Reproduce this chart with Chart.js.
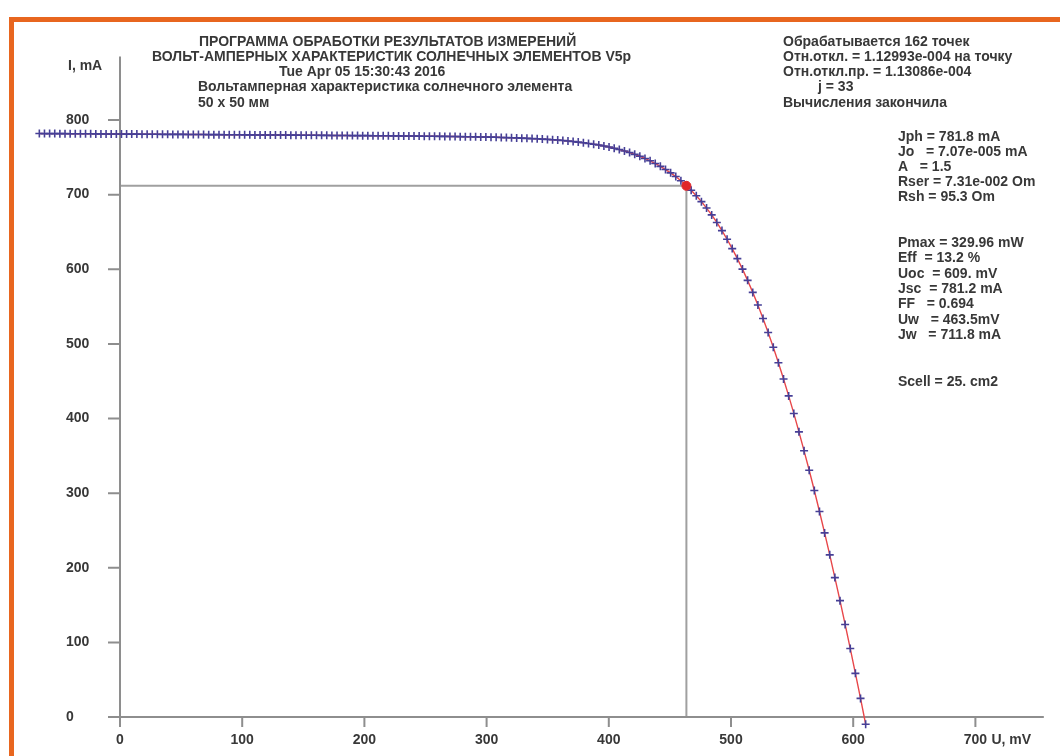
<!DOCTYPE html>
<html>
<head>
<meta charset="utf-8">
<title>ВАХ солнечного элемента</title>
<script src="https://cdn.jsdelivr.net/npm/chart.js@4.4.1/dist/chart.umd.min.js"></script>
<style>
  html, body { margin: 0; padding: 0; background: #fff; }
  #wrap { position: relative; width: 1060px; height: 756px; overflow: hidden; background: #fff; }
  #frame { position: absolute; left: 9px; top: 17px; right: -20px; bottom: -20px;
           border-top: 5px solid #e8661f; border-left: 5px solid #e8661f; }
  #ivChart { position: absolute; left: 0; top: 0; }
</style>
</head>
<body>
<div id="wrap">
  <div id="frame"></div>
  <canvas id="ivChart" width="1060" height="756"></canvas>
</div>
<script>
const voltage = [
  -66.0, -61.8, -57.6, -53.4, -49.2, -45.0, -40.8, -36.6, -32.4, -28.2,
  -24.0, -19.8, -15.6, -11.4, -7.2, -3.0, 1.2, 5.4, 9.6, 13.8,
  18.0, 22.2, 26.4, 30.6, 34.8, 39.0, 43.2, 47.4, 51.6, 55.8,
  60.0, 64.2, 68.4, 72.6, 76.8, 81.0, 85.2, 89.4, 93.6, 97.8,
  102.0, 106.2, 110.4, 114.6, 118.8, 123.0, 127.2, 131.4, 135.6, 139.8,
  144.0, 148.2, 152.4, 156.6, 160.8, 165.0, 169.2, 173.4, 177.6, 181.8,
  186.0, 190.2, 194.4, 198.6, 202.8, 207.0, 211.2, 215.4, 219.6, 223.8,
  228.0, 232.2, 236.4, 240.6, 244.8, 249.0, 253.2, 257.4, 261.6, 265.8,
  270.0, 274.2, 278.4, 282.6, 286.8, 291.0, 295.2, 299.4, 303.6, 307.8,
  312.0, 316.2, 320.4, 324.6, 328.8, 333.0, 337.2, 341.4, 345.6, 349.8,
  354.0, 358.2, 362.4, 366.6, 370.8, 375.0, 379.2, 383.4, 387.6, 391.8,
  396.0, 400.2, 404.4, 408.6, 412.8, 417.0, 421.2, 425.4, 429.6, 433.8,
  438.0, 442.2, 446.4, 450.6, 454.8, 459.0, 463.2, 467.4, 471.6, 475.8,
  480.0, 484.2, 488.4, 492.6, 496.8, 501.0, 505.2, 509.4, 513.6, 517.8,
  522.0, 526.2, 530.4, 534.6, 538.8, 543.0, 547.2, 551.4, 555.6, 559.8,
  564.0, 568.2, 572.4, 576.6, 580.8, 585.0, 589.2, 593.4, 597.6, 601.8,
  606.0, 610.2
];
const current = [
  781.9, 781.8, 781.8, 781.8, 781.7, 781.7, 781.6, 781.6, 781.5, 781.5,
  781.5, 781.4, 781.4, 781.3, 781.3, 781.2, 781.2, 781.1, 781.1, 781.1,
  781.0, 781.0, 780.9, 780.9, 780.8, 780.8, 780.7, 780.7, 780.7, 780.6,
  780.6, 780.5, 780.5, 780.4, 780.4, 780.4, 780.3, 780.3, 780.2, 780.2,
  780.1, 780.1, 780.0, 780.0, 780.0, 779.9, 779.9, 779.8, 779.8, 779.7,
  779.7, 779.6, 779.6, 779.5, 779.5, 779.4, 779.4, 779.3, 779.3, 779.2,
  779.2, 779.1, 779.1, 779.0, 779.0, 778.9, 778.9, 778.8, 778.8, 778.7,
  778.7, 778.6, 778.5, 778.5, 778.4, 778.3, 778.3, 778.2, 778.1, 778.0,
  777.9, 777.9, 777.7, 777.6, 777.5, 777.4, 777.3, 777.2, 777.0, 776.8,
  776.6, 776.4, 776.2, 776.0, 775.7, 775.4, 775.1, 774.8, 774.4, 774.0,
  773.5, 773.1, 772.5, 771.9, 771.2, 770.4, 769.6, 768.6, 767.6, 766.5,
  765.2, 763.8, 762.2, 760.5, 758.5, 756.4, 754.0, 751.4, 748.5, 745.3,
  741.7, 737.9, 733.6, 729.2, 724.2, 718.6, 712.4, 705.8, 698.4, 690.6,
  682.0, 672.8, 662.7, 651.8, 640.2, 627.7, 614.3, 600.2, 585.1, 569.0,
  552.0, 534.1, 515.2, 495.4, 474.7, 453.0, 430.3, 406.8, 382.1, 356.7,
  330.6, 303.5, 275.4, 246.7, 217.3, 186.8, 155.9, 124.0, 91.7, 58.5,
  24.9, -9.7
];

// max power point
const uw = 463.5;
const jw = 711.8;

const xTicks = [0, 100, 200, 300, 400, 500, 600, 700];
const yTicks = [0, 100, 200, 300, 400, 500, 600, 700, 800];

const titleLines = [
  'ПРОГРАММА ОБРАБОТКИ РЕЗУЛЬТАТОВ ИЗМЕРЕНИЙ',
  'ВОЛЬТ-АМПЕРНЫХ ХАРАКТЕРИСТИК СОЛНЕЧНЫХ ЭЛЕМЕНТОВ V5p',
  'Tue Apr 05 15:30:43 2016',
  'Вольтамперная характеристика солнечного элемента',
  '50 x 50 мм'
];
const statusLines = [
  'Обрабатывается 162 точек',
  'Отн.откл. = 1.12993e-004 на точку',
  'Отн.откл.пр. = 1.13086e-004',
  'j = 33',
  'Вычисления закончила'
];
const fitLines = [
  'Jph = 781.8 mA',
  'Jo   = 7.07e-005 mA',
  'A   = 1.5',
  'Rser = 7.31e-002 Om',
  'Rsh = 95.3 Om'
];
const resultLines = [
  'Pmax = 329.96 mW',
  'Eff  = 13.2 %',
  'Uoc  = 609. mV',
  'Jsc  = 781.2 mA',
  'FF   = 0.694',
  'Uw   = 463.5mV',
  'Jw   = 711.8 mA'
];
const areaLine = 'Scell = 25. cm2';

const FONT = 'bold 14px "Liberation Sans", Arial, sans-serif';
const TEXT = '#383838';

// axes, ticks, guide lines to the working point and all the printed text
const ivDecor = {
  id: 'ivDecor',
  beforeDatasetsDraw(chart) {
    const {ctx, scales: {x, y}} = chart;
    const x0 = x.getPixelForValue(0);
    const y0 = y.getPixelForValue(0);
    const xw = x.getPixelForValue(uw);
    const yw = y.getPixelForValue(jw);
    ctx.save();
    ctx.lineWidth = 2;
    ctx.strokeStyle = '#a0a0a0';
    ctx.beginPath();
    ctx.moveTo(x0, yw); ctx.lineTo(xw, yw);
    ctx.moveTo(xw, yw); ctx.lineTo(xw, y0);
    ctx.stroke();

    ctx.strokeStyle = '#8e8e8e';
    ctx.beginPath();
    ctx.moveTo(x0, y.getPixelForValue(885)); ctx.lineTo(x0, y0 + 10);
    ctx.moveTo(x0 - 12, y0); ctx.lineTo(x.getPixelForValue(756), y0);
    yTicks.forEach(v => {
      const py = y.getPixelForValue(v);
      ctx.moveTo(x0 - 12, py); ctx.lineTo(x0, py);
    });
    xTicks.forEach(v => {
      const px = x.getPixelForValue(v);
      ctx.moveTo(px, y0); ctx.lineTo(px, y0 + 10);
    });
    ctx.stroke();
    ctx.restore();
  },
  afterDraw(chart) {
    const {ctx, scales: {x, y}} = chart;
    const x0 = x.getPixelForValue(0);
    const y0 = y.getPixelForValue(0);
    ctx.save();
    ctx.font = FONT;
    ctx.fillStyle = TEXT;
    ctx.textBaseline = 'middle';

    // tick labels
    ctx.textAlign = 'left';
    yTicks.forEach(v => ctx.fillText(String(v), x0 - 54, y.getPixelForValue(v)));
    ctx.textAlign = 'center';
    xTicks.forEach(v => ctx.fillText(String(v), x.getPixelForValue(v), y0 + 23));
    ctx.textAlign = 'left';
    const last = xTicks[xTicks.length - 1];
    ctx.fillText('U, mV', x.getPixelForValue(last) + 16, y0 + 23);
    ctx.fillText('I, mA', x0 - 52, 66);

    // header block
    const titleX = [199, 152, 279, 198, 198];
    titleLines.forEach((t, k) => ctx.fillText(t, titleX[k], 42 + k * 15.2));
    const statusX = [783, 783, 783, 818, 783];
    statusLines.forEach((t, k) => ctx.fillText(t, statusX[k], 42 + k * 15.2));

    // fitted parameters and results
    fitLines.forEach((t, k) => ctx.fillText(t, 898, 137 + k * 15));
    resultLines.forEach((t, k) => ctx.fillText(t, 898, 243 + k * 15.4));
    ctx.fillText(areaLine, 898, 382);
    ctx.restore();
  }
};

const points = voltage.map((u, k) => ({x: u, y: current[k]}));

new Chart(document.getElementById('ivChart'), {
  type: 'scatter',
  data: {
    datasets: [
      {
        label: 'Pmax',
        data: [{x: uw, y: jw}],
        pointRadius: 4.5,
        pointBackgroundColor: '#e0262a',
        pointBorderColor: '#e0262a',
        order: 0
      },
      {
        label: 'Измерение',
        data: points,
        pointStyle: 'cross',
        pointRadius: 4,
        pointBorderWidth: 1.6,
        pointBorderColor: '#463f96',
        order: 1
      },
      {
        type: 'line',
        label: 'Расчёт',
        data: points,
        borderColor: '#e8474a',
        borderWidth: 1.4,
        pointRadius: 0,
        fill: false,
        tension: 0,
        order: 2
      }
    ]
  },
  options: {
    responsive: false,
    animation: false,
    layout: { padding: { left: 22.24, right: 11.28, top: 60.3, bottom: 24.075 } },
    scales: {
      x: { type: 'linear', min: -80, max: 760, display: false },
      y: { type: 'linear', min: -20, max: 880, display: false }
    },
    plugins: {
      legend: { display: false },
      tooltip: { enabled: false }
    }
  },
  plugins: [ivDecor]
});
</script>
</body>
</html>
